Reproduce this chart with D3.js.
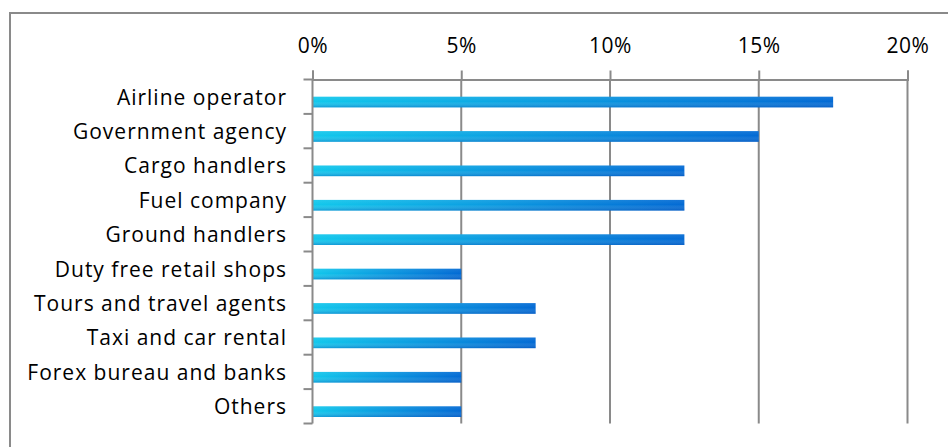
<!DOCTYPE html>
<html>
<head>
<meta charset="utf-8">
<script src="https://cdn.jsdelivr.net/npm/d3@7"></script>
<style>
  html, body { margin: 0; padding: 0; background: #fff; }
  svg { display: block; }
  text { font-family: "Open Sans", "Noto Sans", sans-serif; fill: #000; }
</style>
</head>
<body>
<svg id="chart" width="948" height="447"></svg>
<script>
// Share of respondents by stakeholder group
const categories = [
  "Airline operator",
  "Government agency",
  "Cargo handlers",
  "Fuel company",
  "Ground handlers",
  "Duty free retail shops",
  "Tours and travel agents",
  "Taxi and car rental",
  "Forex bureau and banks",
  "Others"
];
const shares = [17.5, 15, 12.5, 12.5, 12.5, 5, 7.5, 7.5, 5, 5];
const tickValues = [0, 5, 10, 15, 20];

const svg = d3.select("#chart");
const W = 948, H = 447;
const axisColor = "#8a8a8a";
const fontFamily = '"Open Sans", "Noto Sans", sans-serif';

// Outer chart frame (runs off the right and bottom edges)
svg.append("rect")
  .attr("x", 10).attr("y", 13)
  .attr("width", W + 20).attr("height", H + 20)
  .attr("fill", "#fff")
  .attr("stroke", axisColor)
  .attr("stroke-width", 2);

const plot = { left: 312.5, right: 907.5, top: 79.5, bottom: 423.5 };

const x = d3.scaleLinear().domain([0, 20]).range([plot.left, plot.right]);
const y = d3.scaleBand().domain(categories).range([plot.top, plot.bottom]).padding(0);

// Bar fill: cyan to blue along the bar, with a slight vertical shading
const defs = svg.append("defs");
const gH = defs.append("linearGradient").attr("id", "barH")
  .attr("x1", "0").attr("y1", "0").attr("x2", "1").attr("y2", "0");
gH.append("stop").attr("offset", "0%").attr("stop-color", "#12c8ec");
gH.append("stop").attr("offset", "100%").attr("stop-color", "#036ad4");
const gV = defs.append("linearGradient").attr("id", "barV")
  .attr("x1", "0").attr("y1", "0").attr("x2", "0").attr("y2", "1");
gV.append("stop").attr("offset", "0%").attr("stop-color", "#ffffff").attr("stop-opacity", 0.08);
gV.append("stop").attr("offset", "45%").attr("stop-color", "#ffffff").attr("stop-opacity", 0);
gV.append("stop").attr("offset", "100%").attr("stop-color", "#0040a8").attr("stop-opacity", 0.35);

// Vertical gridlines
svg.append("g")
  .selectAll("line")
  .data(tickValues.filter(d => d > 0))
  .join("line")
  .attr("x1", d => x(d)).attr("x2", d => x(d))
  .attr("y1", plot.top).attr("y2", plot.bottom)
  .attr("stroke", axisColor).attr("stroke-width", 2);

// Top value axis
const xAxis = svg.append("g")
  .attr("transform", `translate(0,${plot.top})`)
  .call(d3.axisTop(x).tickValues(tickValues).tickFormat(d => d + "%").tickSize(9).tickPadding(18));
xAxis.select(".domain").attr("stroke", axisColor).attr("stroke-width", 2);
xAxis.selectAll(".tick line").attr("stroke", axisColor).attr("stroke-width", 2);
xAxis.selectAll(".tick text")
  .attr("font-size", 21).attr("font-family", fontFamily).attr("fill", "#000")
  .attr("letter-spacing", "0.5px");

// Bars
const barH = y.bandwidth() * 0.31;
const bars = svg.append("g").selectAll("g")
  .data(categories.map((c, i) => ({ c, v: shares[i] })))
  .join("g");
bars.append("rect")
  .attr("x", plot.left).attr("y", d => y(d.c) + y.bandwidth() / 2)
  .attr("width", d => x(d.v) - plot.left).attr("height", barH)
  .attr("fill", "url(#barH)");
bars.append("rect")
  .attr("x", plot.left).attr("y", d => y(d.c) + y.bandwidth() / 2)
  .attr("width", d => x(d.v) - plot.left).attr("height", barH)
  .attr("fill", "url(#barV)");

// Category axis on the left, ticks at band boundaries
const yAxisG = svg.append("g");
yAxisG.append("line")
  .attr("x1", plot.left).attr("x2", plot.left)
  .attr("y1", plot.top).attr("y2", plot.bottom)
  .attr("stroke", axisColor).attr("stroke-width", 2);
const bounds = categories.map(c => y(c)).concat([plot.bottom]);
yAxisG.selectAll("line.tk")
  .data(bounds)
  .join("line").attr("class", "tk")
  .attr("x1", plot.left - 9).attr("x2", plot.left)
  .attr("y1", d => d).attr("y2", d => d)
  .attr("stroke", axisColor).attr("stroke-width", 2);
yAxisG.selectAll("text")
  .data(categories)
  .join("text")
  .attr("x", 287)
  .attr("y", d => y(d) + y.bandwidth() / 2)
  .attr("dy", "0.38em")
  .attr("text-anchor", "end")
  .attr("font-size", 21)
  .attr("letter-spacing", "1px")
  .text(d => d);
</script>
</body>
</html>
